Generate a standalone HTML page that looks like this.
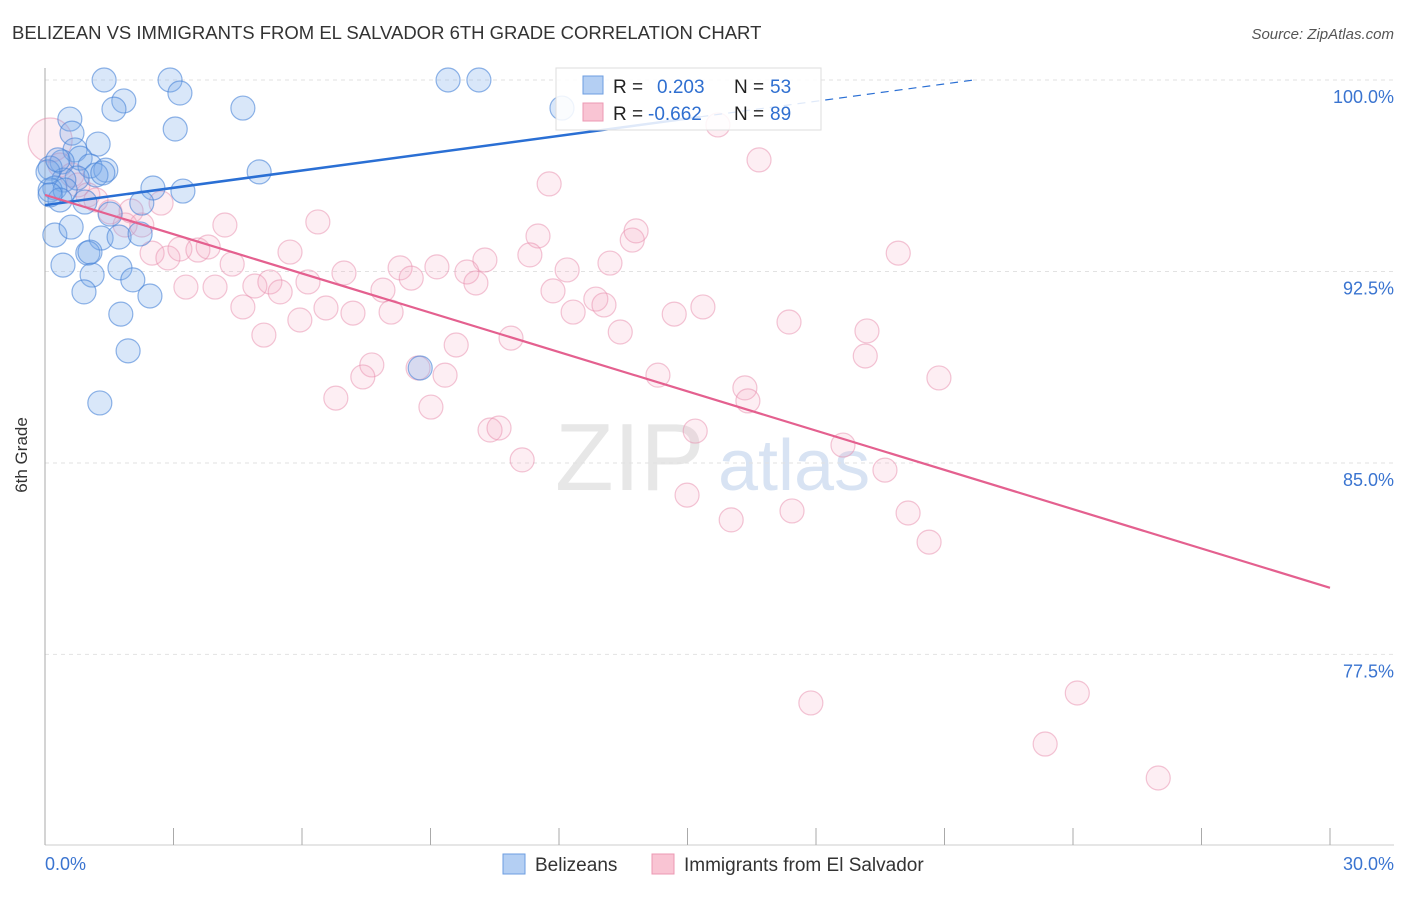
<!DOCTYPE html>
<html><head><meta charset="utf-8"><style>
body{margin:0;background:#fff;font-family:"Liberation Sans",sans-serif}
svg text{font-family:"Liberation Sans",sans-serif}
</style></head><body>
<svg id="chart" width="1406" height="892">
<text x="12" y="39" font-size="18.5" fill="#333">BELIZEAN VS IMMIGRANTS FROM EL SALVADOR 6TH GRADE CORRELATION CHART</text>
<text x="1394" y="39" font-size="15" fill="#555" font-style="italic" text-anchor="end">Source: ZipAtlas.com</text>
<g><text x="555" y="490" font-size="96" fill="#ddd" font-family="Liberation Serif" opacity="0.7">ZIP</text><text x="718" y="490" font-size="72" fill="#c8d8ee" opacity="0.7">atlas</text></g>
<g id="grid"></g><g id="axes"></g><g id="pts"></g><g id="trends"></g>
<text x="27" y="455" font-size="17" fill="#333" transform="rotate(-90 27 455)" text-anchor="middle">6th Grade</text>
<g>
<rect x="556" y="68" width="265" height="62" fill="rgba(255,255,255,0.85)" stroke="#ddd"/>
<rect x="583" y="76" width="20" height="18" fill="#b4cff3" stroke="#6c9ee0"/>
<rect x="583" y="103" width="20" height="18" fill="#f9c4d3" stroke="#ec98b3"/>
<text x="613" y="93" font-size="19" fill="#222">R = </text><text x="657" y="93" font-size="19" fill="#2f6fd0">0.203</text>
<text x="734" y="93" font-size="19" fill="#222">N = </text><text x="770" y="93" font-size="19" fill="#2f6fd0">53</text>
<text x="613" y="120" font-size="19" fill="#222">R = </text><text x="648" y="120" font-size="19" fill="#2f6fd0">-0.662</text>
<text x="734" y="120" font-size="19" fill="#222">N = </text><text x="770" y="120" font-size="19" fill="#2f6fd0">89</text>
</g>
<g>
<rect x="503" y="854" width="22" height="20" fill="#b4cff3" stroke="#6c9ee0"/>
<text x="535" y="871" font-size="19" fill="#333">Belizeans</text>
<rect x="652" y="854" width="22" height="20" fill="#f9c4d3" stroke="#ec98b3"/>
<text x="684" y="871" font-size="19" fill="#333">Immigrants from El Salvador</text>
</g>
</svg>
<script>
const yTicks=[100,92.5,85,77.5];
const yTickLabels=["100.0%","92.5%","85.0%","77.5%"];
const xTickLabels=["0.0%","30.0%"];
const blueX=[1.38,2.92,9.41,10.13,1.84,3.15,1.61,4.62,12.07,0.58,3.04,0.63,1.24,0.70,0.82,0.40,1.05,0.12,1.42,1.19,1.35,5.00,0.75,0.44,0.23,0.12,0.47,2.52,3.22,0.35,0.93,2.26,1.52,0.23,0.61,1.31,1.73,2.22,1.00,1.05,0.42,1.75,1.10,2.05,0.91,2.45,1.77,1.94,8.76,1.28,0.12,0.07,0.30];
const blueY=[100,100,100,100,99.18,99.49,98.86,98.90,98.90,98.47,98.08,97.92,97.49,97.26,96.94,96.79,96.63,96.55,96.47,96.28,96.36,96.40,96.16,96.08,95.77,95.69,95.69,95.77,95.65,95.30,95.22,95.18,94.75,93.93,94.24,93.81,93.85,93.97,93.22,93.26,92.75,92.64,92.36,92.17,91.70,91.54,90.83,89.39,88.72,87.35,95.50,96.40,96.87];
const pinkX=[0.12,0.35,0.63,0.77,1.00,1.19,1.52,1.87,2.26,2.71,2.01,4.20,6.37,11.77,16.67,15.71,13.71,13.80,11.51,11.32,10.27,2.50,2.87,3.15,3.57,3.81,4.37,5.72,3.29,3.97,4.62,4.90,5.25,5.49,6.14,6.98,5.11,5.95,6.56,7.19,7.89,8.08,8.29,8.55,9.15,9.85,10.06,12.19,11.86,13.19,12.86,13.05,12.33,13.43,14.69,15.36,17.37,19.19,19.15,19.92,20.87,9.60,10.88,7.63,7.42,6.79,8.71,9.34,9.01,10.39,10.60,11.14,14.31,16.34,16.41,15.18,18.63,19.61,14.99,16.02,17.44,20.15,20.64,17.88,24.10,23.35,25.99];
const pinkY=[97.65,96.67,96.28,95.89,95.50,95.30,94.83,94.32,94.32,95.18,94.87,94.32,94.44,95.93,96.87,98.24,93.73,94.09,93.89,93.15,92.95,93.22,93.03,93.38,93.34,93.46,92.79,93.26,91.89,91.89,91.11,91.93,92.09,91.70,92.09,92.44,90.01,90.60,91.07,90.87,91.77,90.91,92.64,92.24,92.68,92.48,92.05,92.56,91.74,92.83,91.42,91.19,90.91,90.13,90.83,91.11,90.52,90.17,89.19,93.22,88.33,89.62,89.89,88.84,88.37,87.54,88.72,88.44,87.19,86.29,86.37,85.12,88.44,87.94,87.43,86.25,85.70,84.72,83.74,82.77,83.12,83.04,81.90,75.60,75.99,73.99,72.66];
const blueTrend=[95.10,0.226];
const pinkTrend=[95.50,-0.513];
const NS="http://www.w3.org/2000/svg";
const X=v=>45+v*(1285/30), Y=v=>80+(100-v)*25.53;
function mk(t,a,p){const e=document.createElementNS(NS,t);for(const k in a)e.setAttribute(k,a[k]);p.appendChild(e);return e;}
const grid=document.getElementById('grid'),axes=document.getElementById('axes'),pts=document.getElementById('pts'),tr=document.getElementById('trends');
yTicks.forEach((t,i)=>{
 const l=mk('line',{x1:45,x2:1394,y1:Y(t),y2:Y(t),stroke:'#e2e2e2','stroke-dasharray':'4,4'},grid);
 
 const tx=mk('text',{x:1394,y:Y(t)+23,'font-size':18,fill:'#3a74d0','text-anchor':'end'},grid);tx.textContent=yTickLabels[i];
 
});
mk('line',{x1:45,x2:45,y1:68,y2:845,stroke:'#aaa'},axes);
mk('line',{x1:45,x2:1394,y1:845,y2:845,stroke:'#ccc'},axes);
for(let i=0;i<=10;i++){const t=mk('line',{x1:X(i*3),x2:X(i*3),y1:828,y2:845,stroke:'#aaa'},axes);}
[[0,'start',45],[1,'end',1394]].forEach(([i,a,x])=>{const t=mk('text',{x:x,y:870,'font-size':18,fill:'#3a74d0','text-anchor':a},axes);t.textContent=xTickLabels[i];});
pinkX.forEach((v,i)=>{const c=mk('circle',{cx:X(v),cy:Y(pinkY[i]),r:i===0?22:12,fill:'rgba(244,160,188,0.18)',stroke:'rgba(232,140,172,0.5)','stroke-width':1.2},pts);
 });
blueX.forEach((v,i)=>{const c=mk('circle',{cx:X(v),cy:Y(blueY[i]),r:12,fill:'rgba(120,168,232,0.28)',stroke:'rgba(70,130,215,0.6)','stroke-width':1.2},pts);
 });
const bEnd=(100-blueTrend[0])/blueTrend[1], bSolid=Math.min(15.3,bEnd);
const b1=mk('line',{x1:X(0),y1:Y(blueTrend[0]),x2:X(bSolid),y2:Y(blueTrend[0]+blueTrend[1]*bSolid),stroke:'#2a6fd4','stroke-width':2.5},tr);

const b2=mk('line',{x1:X(bSolid),y1:Y(blueTrend[0]+blueTrend[1]*bSolid),x2:X(bEnd),y2:Y(100),stroke:'#2a6fd4','stroke-width':1.2,'stroke-dasharray':'8,6'},tr);

const p1=mk('line',{x1:X(0),y1:Y(pinkTrend[0]),x2:X(30),y2:Y(pinkTrend[0]+pinkTrend[1]*30),stroke:'#e4608f','stroke-width':2.2},tr);

</script>
</body></html>
